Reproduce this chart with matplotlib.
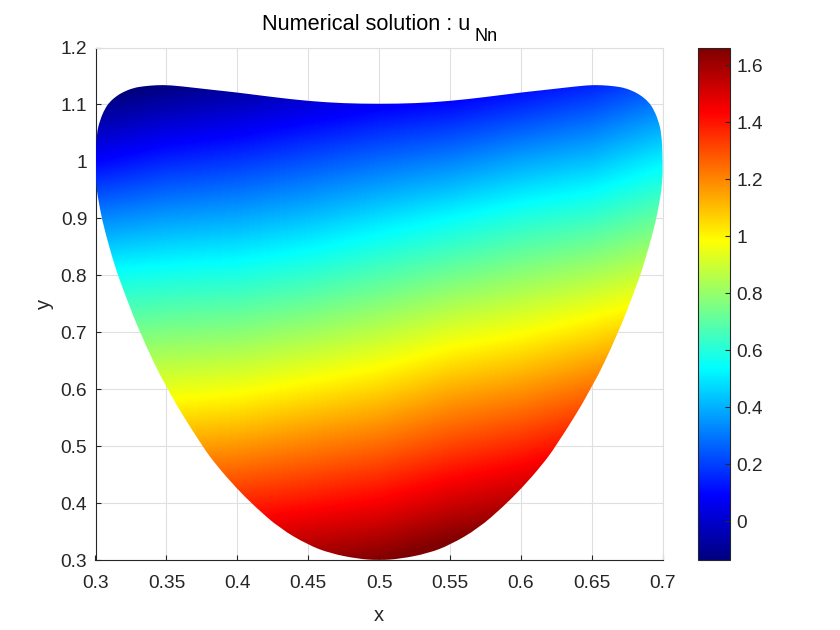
import numpy as np
import matplotlib
matplotlib.use("Agg")
import matplotlib.pyplot as plt
from matplotlib.colors import LinearSegmentedColormap
from matplotlib.path import Path
from matplotlib.patches import PathPatch

plt.rcParams['font.family'] = ['Liberation Sans', 'DejaVu Sans']

# solution values (rows = y_nodes, columns = x_nodes)
x_nodes = [0.3, 0.35, 0.4, 0.45, 0.5, 0.55, 0.6, 0.65, 0.7]
y_nodes = [0.3, 0.4, 0.5, 0.6, 0.7, 0.8, 0.9, 1.0, 1.1, 1.2]
u_values = [
    [1.52, 1.56, 1.58, 1.62, 1.66, 1.73, 1.78, 1.86, 1.92],
    [1.315, 1.355, 1.375, 1.41, 1.45, 1.52, 1.57, 1.65, 1.71],
    [1.112, 1.15, 1.173, 1.214, 1.254, 1.32, 1.37, 1.436, 1.5],
    [0.918, 0.949, 0.971, 1.015, 1.06, 1.13, 1.174, 1.238, 1.31],
    [0.738, 0.763, 0.78, 0.82, 0.87, 0.935, 0.98, 1.04, 1.11],
    [0.558, 0.577, 0.59, 0.626, 0.68, 0.737, 0.79, 0.84, 0.91],
    [0.329, 0.368, 0.39, 0.43, 0.486, 0.54, 0.597, 0.638, 0.72],
    [0.094, 0.154, 0.186, 0.232, 0.28, 0.323, 0.384, 0.43, 0.52],
    [-0.116, -0.058, -0.02, 0.03, 0.075, 0.104, 0.16, 0.22, 0.31],
    [-0.33, -0.27, -0.23, -0.18, -0.13, -0.1, -0.05, 0.01, 0.1],
]
u_min = -0.137
u_max = 1.663

# left half of the domain outline, top centre round to bottom centre
edge_x = [0.5, 0.475, 0.45, 0.425, 0.4, 0.385, 0.369, 0.3525, 0.3431, 0.3337, 0.3266,
          0.3196, 0.3149, 0.3102, 0.3067, 0.3032, 0.3008, 0.3, 0.3001, 0.3032, 0.3067,
          0.3137, 0.3196, 0.3314, 0.3502, 0.3753, 0.3855, 0.3995, 0.4125, 0.43, 0.45,
          0.4654, 0.485, 0.5]
edge_y = [1.101, 1.102, 1.106, 1.113, 1.121, 1.125, 1.1295, 1.134, 1.134, 1.132, 1.129,
          1.122, 1.115, 1.105, 1.093, 1.073, 1.049, 1.005, 0.9616, 0.9148, 0.8767,
          0.8153, 0.7744, 0.6984, 0.6, 0.5, 0.466, 0.4263, 0.394, 0.356, 0.3269,
          0.3123, 0.3025, 0.3]

x_ticks = [0.3, 0.35, 0.4, 0.45, 0.5, 0.55, 0.6, 0.65, 0.7]
x_labels = ['0.3', '0.35', '0.4', '0.45', '0.5', '0.55', '0.6', '0.65', '0.7']
y_ticks = [0.3, 0.4, 0.5, 0.6, 0.7, 0.8, 0.9, 1.0, 1.1, 1.2]
y_labels = ['0.3', '0.4', '0.5', '0.6', '0.7', '0.8', '0.9', '1', '1.1', '1.2']
cbar_ticks = [0, 0.2, 0.4, 0.6, 0.8, 1.0, 1.2, 1.4, 1.6]
cbar_labels = ['0', '0.2', '0.4', '0.6', '0.8', '1', '1.2', '1.4', '1.6']

# MATLAB's jet: the bands sit a little differently from matplotlib's
jet = LinearSegmentedColormap.from_list('matlab_jet', [
    (0, (0, 0, 0.5)), (0.125, (0, 0, 1)), (0.375, (0, 1, 1)),
    (0.625, (1, 1, 0)), (0.875, (1, 0, 0)), (1, (0.5, 0, 0))], N=256)

W, H = 840, 630
fig = plt.figure(figsize=(W / 100, H / 100), dpi=100)
ax = fig.add_axes([95.5 / W, 1 - 560.3 / H, 567.2 / W, 512.8 / H])
cax = fig.add_axes([698.3 / W, 1 - 560.3 / H, 31.4 / W, 512.8 / H])

# the outline is symmetric about x = 0.5
outline = np.column_stack([edge_x + [1 - v for v in edge_x[-2:0:-1]],
                           edge_y + edge_y[-2:0:-1]])
mids = (outline + np.roll(outline, -1, axis=0)) / 2
verts = [mids[-1]]
codes = [Path.MOVETO]
for ctrl, end in zip(outline, mids):
    verts += [ctrl, end]
    codes += [Path.CURVE3, Path.CURVE3]
clip = PathPatch(Path(verts, codes), transform=ax.transData, fc='none', ec='none')
ax.add_patch(clip)

# bilinear on the data, so the jet bands stay clean between the nodes
dx = (x_nodes[1] - x_nodes[0]) / 2
dy = (y_nodes[1] - y_nodes[0]) / 2
img = ax.imshow(np.array(u_values), origin='lower', aspect='auto', cmap=jet,
                extent=[x_nodes[0] - dx, x_nodes[-1] + dx, y_nodes[0] - dy, y_nodes[-1] + dy],
                interpolation='bilinear', interpolation_stage='data',
                vmin=u_min, vmax=u_max, zorder=3)
img.set_clip_path(clip)

ax.set_xlim(0.3, 0.7)
ax.set_ylim(0.3, 1.2)
ax.set_xticks(x_ticks, x_labels)
ax.set_yticks(y_ticks, y_labels)
ax.set_axisbelow(True)
ax.grid(True, color='#dfdfdf', lw=0.8)
ax.tick_params(direction='in', length=3.6, width=0.8, color='#262626',
               labelcolor='#262626', labelsize=13.8)
ax.tick_params(axis='x', pad=10.5)
ax.tick_params(axis='y', pad=6)
for side in ['left', 'bottom']:
    ax.spines[side].set_color('#262626')
for side in ['top', 'right']:
    ax.spines[side].set_color('#dfdfdf')
ax.set_xlabel('x', fontsize=14.5, color='#262626', labelpad=10)
ax.set_ylabel('y', fontsize=14.5, color='#262626', labelpad=4.5)

cb = fig.colorbar(img, cax=cax)
cb.set_ticks(cbar_ticks, labels=cbar_labels)
cb.ax.tick_params(direction='in', length=3.6, width=0.8, color='#262626',
                  labelcolor='#262626', labelsize=13.8, pad=5)
cb.outline.set_edgecolor('#262626')

fig.text(262 / W, 1 - 30 / H, 'Numerical solution : u', fontsize=15.7, color='black')
fig.text(474 / W, 1 - 41 / H, 'Nn', fontsize=13, color='black')

fig.savefig('out.png', dpi=100)
